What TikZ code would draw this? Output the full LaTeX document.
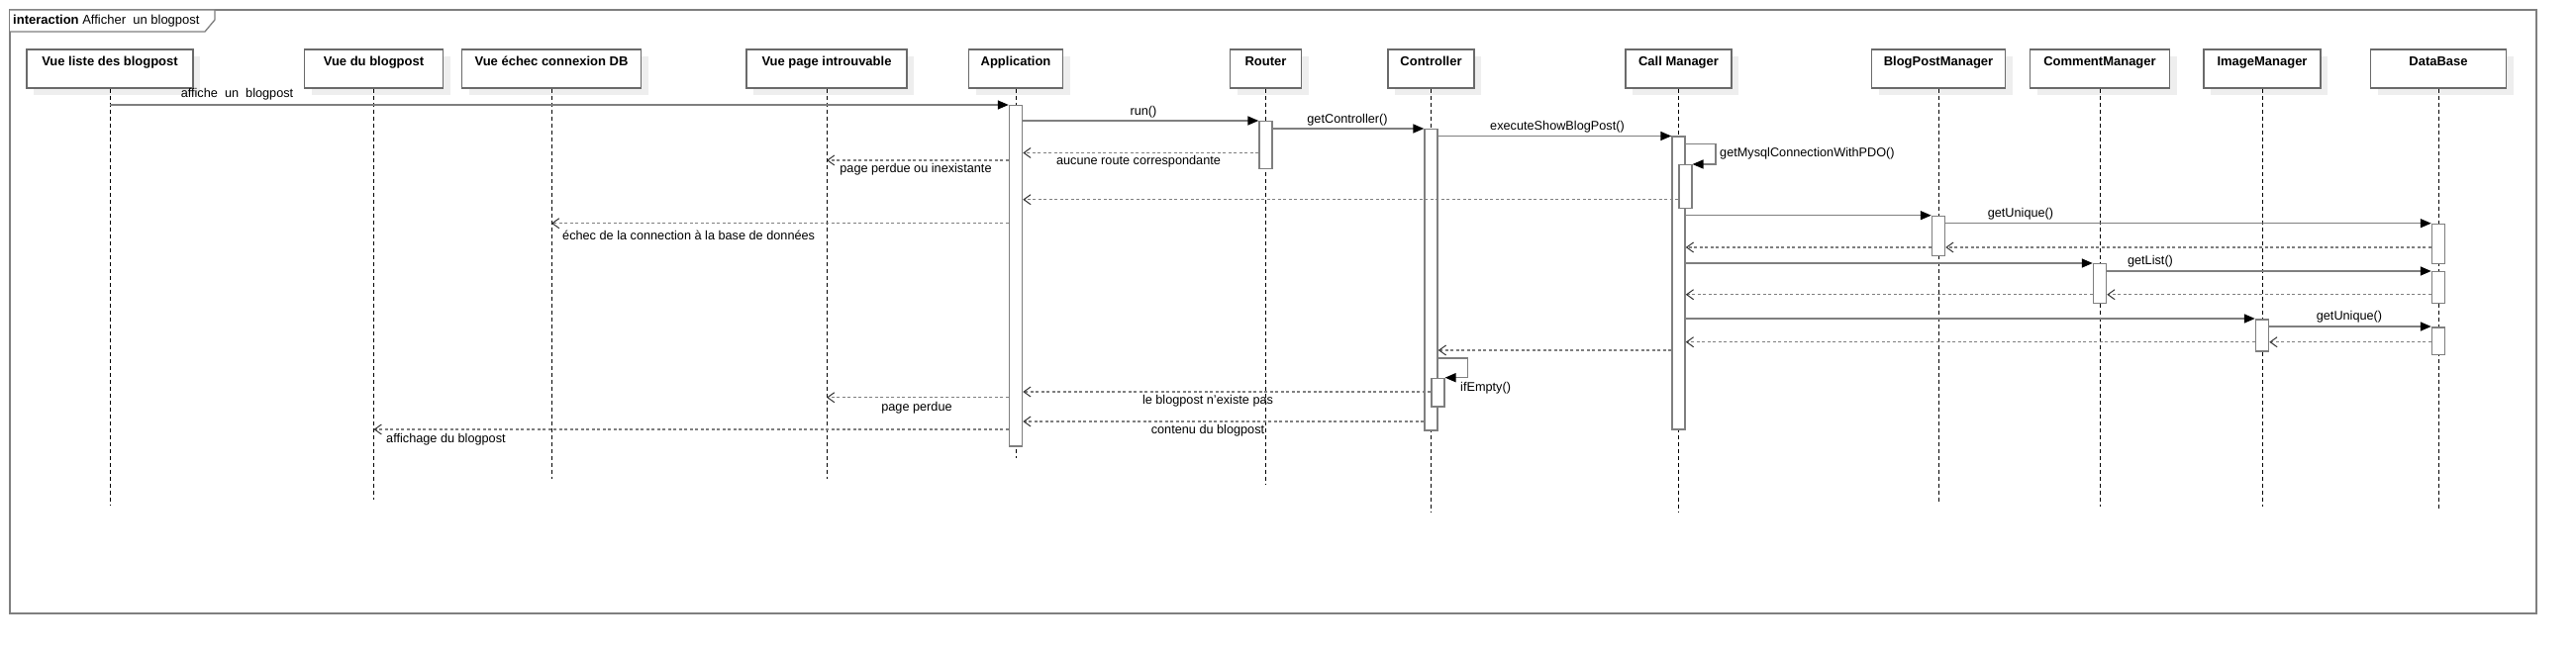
\documentclass[tikz,border=0pt]{standalone}
\usepackage{fontspec}
\setmainfont{Liberation Sans}
\usetikzlibrary{arrows.meta}
\definecolor{lineg}{HTML}{7F7F7F}
\definecolor{boxg}{HTML}{6A6A6A}
\definecolor{shadowg}{HTML}{EEEEEE}
\newcommand\callmsg[3]{\draw[call] (#1 |- 0,#3) -- (#2 |- 0,#3);}
\newcommand\retmsg[3]{\draw[ret] (#1 |- 0,#3) -- (#2 |- 0,#3);}
\newcommand\headbox[4]{%
  \fill[shadowg] ({#2-#3/2+7},57) rectangle ({#2+#3/2+7},96);
  \node[head, minimum width=#3pt] (#1) at (#2,69.5) {#4};}
\begin{document}
\begin{tikzpicture}[x=1pt,y=-1pt,
 head/.style={draw=boxg, line width=1.3pt, fill=white, inner xsep=2pt, inner ysep=7pt,
   text height=10pt, text depth=15pt, font=\fontsize{13}{15}\selectfont\bfseries},
 life/.style={black, line width=0.9pt, dash pattern=on 4pt off 3pt},
 act/.style={draw=lineg, fill=white, line width=1.5pt, minimum width=13pt, inner sep=0pt, anchor=north},
 call/.style={lineg, line width=1.5pt, -{Triangle[length=11pt,width=9pt,color=black]}},
 ret/.style={lineg, line width=1.5pt, dash pattern=on 3pt off 2.5pt,
   -{Straight Barb[length=7pt,width=10pt,line width=1pt,color=black!80]}},
 lbl/.style={font=\fontsize{12.7}{15}\selectfont, inner sep=0pt, anchor=base},
 lbll/.style={lbl, anchor=base west}]
\useasboundingbox (0,0) rectangle (2602,660);

% frame
\draw[lineg, line width=1.3pt] (10,10) rectangle (2562,620);
\draw[lineg, line width=1.3pt, fill=white] (10,10) -- (217,10) -- (217,20) -- (207,32) -- (10,32);
\node[anchor=base west, inner sep=0pt, font=\fontsize{13}{15}\selectfont] (title) at (13,25)
  {\textbf{interaction} Afficher\ \ un blogpost};

% heads
\headbox{hL}{111}{168}{Vue liste des blogpost}
\headbox{hDu}{377.5}{140}{Vue du blogpost}
\headbox{hEc}{557}{181}{Vue échec connexion DB}
\headbox{hPg}{835}{162}{Vue page introuvable}
\headbox{hApp}{1026}{95}{Application}
\headbox{hRt}{1278.5}{72}{Router}
\headbox{hCt}{1445.5}{87}{Controller}
\headbox{hCm}{1695.5}{107}{Call Manager}
\headbox{hBp}{1958}{135}{BlogPostManager}
\headbox{hCo}{2121}{141}{CommentManager}
\headbox{hIm}{2285}{118}{ImageManager}
\headbox{hDb}{2463}{137}{DataBase}

% lifelines
\draw[life] (hL.south)   -- (hL.south |- 0,511);
\draw[life] (hDu.south)  -- (hDu.south |- 0,505);
\draw[life] (hEc.south)  -- (hEc.south |- 0,484);
\draw[life] (hPg.south)  -- (hPg.south |- 0,484);
\draw[life] (hApp.south) -- (hApp.south |- 0,463);
\draw[life] (hRt.south)  -- (hRt.south |- 0,490);
\draw[life] (hCt.south)  -- (hCt.south |- 0,518);
\draw[life] (hCm.south)  -- (hCm.south |- 0,518);
\draw[life] (hBp.south)  -- (hBp.south |- 0,508);
\draw[life] (hCo.south)  -- (hCo.south |- 0,512);
\draw[life] (hIm.south)  -- (hIm.south |- 0,512);
\draw[life] (hDb.south)  -- (hDb.south |- 0,515);

% activations
\node[act, minimum height=344pt]  (aApp) at (hApp.south |- 0,106)   {};
\node[act, minimum height=48pt]   (aRt)  at (hRt.south |- 0,122)    {};
\node[act, minimum height=304pt]  (aCt)  at (hCt.south |- 0,130)    {};
\node[act, minimum height=295.5pt] (aCm) at (hCm.south |- 0,137.5)  {};
\node[act, minimum height=40pt]   (aBp)  at (hBp.south |- 0,217.7)  {};
\node[act, minimum height=39.7pt] (aCo)  at (hCo.south |- 0,266)    {};
\node[act, minimum height=32pt]   (aIm)  at (hIm.south |- 0,322)    {};
\node[act, minimum height=40.3pt] (aDb1) at (hDb.south |- 0,225.7)  {};
\node[act, minimum height=32pt]   (aDb2) at (hDb.south |- 0,274)    {};
\node[act, minimum height=27.7pt] (aDb3) at (hDb.south |- 0,330)    {};

% messages
\callmsg{hL.south}{aApp.west}{106}
\node[lbl] (l1) at (239.5,98.5) {affiche\ \ un\ \ blogpost};

\callmsg{aApp.east}{aRt.west}{122}
\node[lbl] (l2) at (1155,116.5) {run()};

\callmsg{aRt.east}{aCt.west}{130}
\node[lbl] (l3) at (1361,124.5) {getController()};

\callmsg{aCt.east}{aCm.west}{137.5}
\node[lbl] (l4) at (1573,131.5) {executeShowBlogPost()};

\retmsg{aRt.west}{aApp.east}{154.5}
\node[lbl] (l5) at (1150,167) {aucune route correspondante};

\retmsg{aApp.west}{hPg.south}{162}
\node[lbl] (l6) at (925,175) {page perdue ou inexistante};

% self call getMysqlConnectionWithPDO
\node[act, minimum height=44pt, xshift=6.8pt] (aCmi) at (hCm.south |- 0,166) {};
\draw[call] (aCm.east |- 0,145.7) -- ++(30,0) |- (aCmi.north east);
\node[lbll] (l7) at (1737,158.5) {getMysqlConnectionWithPDO()};

\retmsg{aCmi.west}{aApp.east}{201.7}
\retmsg{aApp.west}{hEc.south}{225.7}
\node[lbll] (l8) at (568,243) {échec de la connection à la base de données};

\callmsg{aCm.east}{aBp.west}{217.7}
\callmsg{aBp.east}{aDb1.west}{225.7}
\node[lbl] (l9) at (2041,219.5) {getUnique()};
\retmsg{aDb1.west}{aBp.east}{250}
\retmsg{aBp.west}{aCm.east}{250}

\callmsg{aCm.east}{aCo.west}{266}
\callmsg{aCo.east}{aDb2.west}{274}
\node[lbl] (l10) at (2172,267.5) {getList()};
\retmsg{aDb2.west}{aCo.east}{297.7}
\retmsg{aCo.west}{aCm.east}{297.7}

\callmsg{aCm.east}{aIm.west}{322}
\callmsg{aIm.east}{aDb3.west}{330}
\node[lbl] (l11) at (2373,323.5) {getUnique()};
\retmsg{aDb3.west}{aIm.east}{345.7}
\retmsg{aIm.west}{aCm.east}{345.7}

\retmsg{aCm.west}{aCt.east}{354}

% self call ifEmpty
\node[act, minimum height=28.3pt, xshift=6.8pt] (aCti) at (hCt.south |- 0,381.7) {};
\draw[call] (aCt.east |- 0,362) -- ++(29.5,0) |- (aCti.north east);
\node[lbll] (l12) at (1475,395) {ifEmpty()};

\retmsg{aCti.west}{aApp.east}{396}
\node[lbl] (l13) at (1220,408.5) {le blogpost n'existe pas};

\retmsg{aApp.west}{hPg.south}{401.7}
\node[lbl] (l14) at (926,415) {page perdue};

\retmsg{aCt.west}{aApp.east}{426}
\node[lbl] (l15) at (1220,438.5) {contenu du blogpost};

\retmsg{aApp.west}{hDu.south}{434}
\node[lbll] (l16) at (390,447) {affichage du blogpost};
\end{tikzpicture}
\end{document}
